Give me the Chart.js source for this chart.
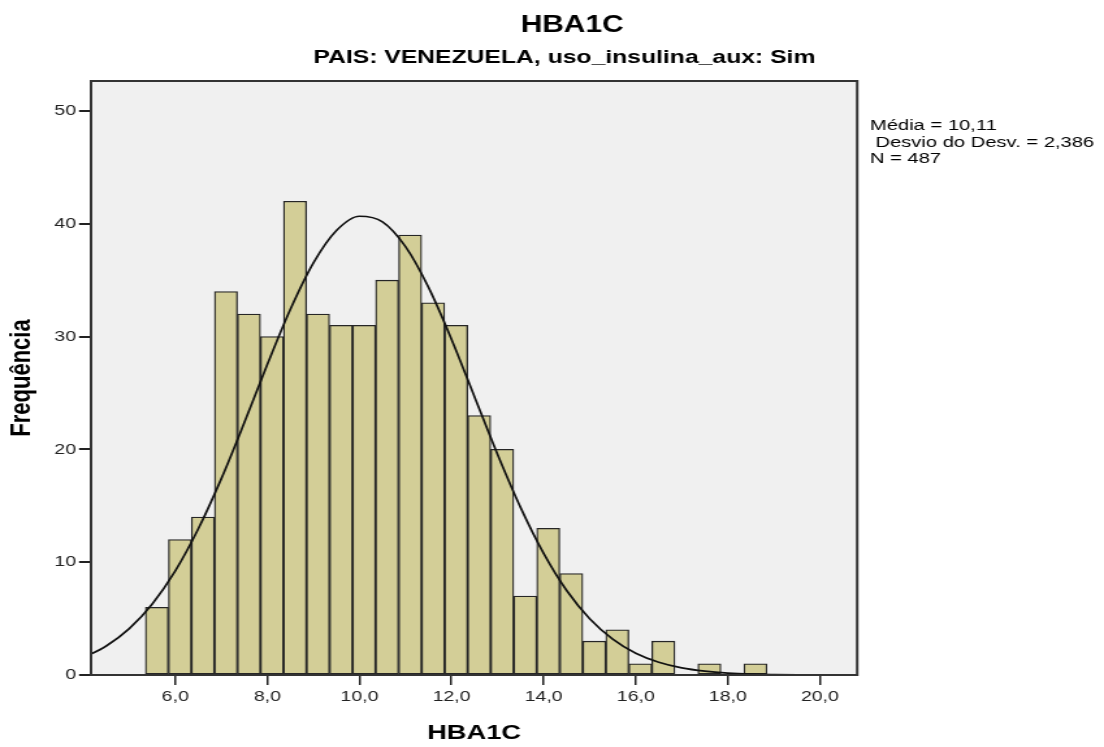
<!DOCTYPE html>
<html>
<head>
<meta charset="utf-8">
<title>HBA1C</title>
<script src="https://cdn.jsdelivr.net/npm/chart.js@4.4.1/dist/chart.umd.min.js"></script>
<style>
  html, body { margin: 0; padding: 0; background: #ffffff; }
  #histo { position: absolute; left: 0; top: 0; }
</style>
</head>
<body>
<!-- the reference is stretched sideways, so the chart is drawn narrower and widened by css -->
<canvas id="histo" width="849" height="747" style="width:1104px;height:747px"></canvas>
<script>
// histogram bins (centres, width 0.5) and counts
const binCenters = [5.6, 6.1, 6.6, 7.1, 7.6, 8.1, 8.6, 9.1, 9.6, 10.1, 10.6, 11.1, 11.6, 12.1,
                    12.6, 13.1, 13.6, 14.1, 14.6, 15.1, 15.6, 16.1, 16.6, 17.1, 17.6, 18.1, 18.6];
const binCounts = [6, 12, 14, 34, 32, 30, 42, 32, 31, 31, 35, 39, 33, 31,
                   23, 20, 7, 13, 9, 3, 4, 1, 3, 0, 1, 0, 1];

// normal curve
const curveX = [4.0, 4.5, 5.0, 5.5, 6.0, 6.5, 7.0, 7.5, 8.0, 8.5, 9.0, 9.5, 10.0, 10.5, 11.0, 11.5,
                12.0, 12.5, 13.0, 13.5, 14.0, 14.5, 15.0, 15.5, 16.0, 16.5, 17.0, 17.5, 18.0, 18.5,
                19.0, 19.5, 20.0, 20.5, 21.0];
const curveY = [1.53, 2.57, 4.11, 6.30, 9.23, 12.96, 17.41, 22.38, 27.54, 32.42, 36.53, 39.40, 40.67,
                40.17, 37.97, 34.36, 29.75, 24.65, 19.55, 14.84, 10.78, 7.49, 4.99, 3.18, 1.93, 1.13,
                0.63, 0.34, 0.17, 0.08, 0.04, 0.02, 0.01, 0.0, 0.0];

const xTickValues = [6, 8, 10, 12, 14, 16, 18, 20];
const xTickLabels = ['6,0', '8,0', '10,0', '12,0', '14,0', '16,0', '18,0', '20,0'];
const yTickValues = [0, 10, 20, 30, 40, 50];
const yTickLabels = ['0', '10', '20', '30', '40', '50'];

const statsLines = ['Média = 10,11', ' Desvio do Desv. = 2,386', 'N = 487'];

const FONT = "'Liberation Sans', Arial, sans-serif";

// plot background, frame and the free text (titles, stats box)
const decor = {
    id: 'decor',
    beforeDatasetsDraw(chart) {
        const { ctx, chartArea: a } = chart;
        ctx.save();
        ctx.fillStyle = '#f0f0f0';
        ctx.fillRect(a.left, a.top, a.right - a.left, a.bottom - a.top);
        ctx.restore();
    },
    afterDraw(chart) {
        const { ctx, chartArea: a } = chart;
        ctx.save();
        ctx.strokeStyle = '#333333';
        ctx.lineWidth = 2;
        ctx.strokeRect(a.left, a.top, a.right - a.left, a.bottom - a.top);

        ctx.fillStyle = '#000000';
        ctx.textAlign = 'center';
        ctx.textBaseline = 'alphabetic';
        ctx.font = 'bold 23px ' + FONT;
        ctx.fillText('HBA1C', 440, 31.5);
        ctx.font = 'bold 19px ' + FONT;
        ctx.fillText('PAIS: VENEZUELA, uso_insulina_aux: Sim', 434, 63);

        ctx.textAlign = 'left';
        ctx.font = '15.5px ' + FONT;
        statsLines.forEach((t, i) => ctx.fillText(t, 669, 130 + i * 16.5));
        ctx.restore();
    }
};

const ctx = document.getElementById('histo').getContext('2d');
new Chart(ctx, {
    type: 'bar',
    data: {
        datasets: [
            {
                type: 'line',
                data: curveX.map((x, i) => ({ x: x, y: curveY[i] })),
                borderColor: '#111111',
                borderWidth: 1.7,
                pointRadius: 0,
                cubicInterpolationMode: 'monotone',
                fill: false,
                order: 0
            },
            {
                type: 'bar',
                data: binCenters.map((x, i) => ({ x: x, y: binCounts[i] })),
                backgroundColor: '#d3ce97',
                borderColor: '#262626',
                borderWidth: 1.3,
                borderSkipped: false,
                barPercentage: 1,
                categoryPercentage: 1,
                order: 1
            }
        ]
    },
    options: {
        responsive: false,
        animation: false,
        devicePixelRatio: 1,
        layout: { padding: { top: 81, right: 189.8, bottom: 0, left: 0 } },
        plugins: {
            legend: { display: false },
            tooltip: { enabled: false },
            title: { display: false }
        },
        scales: {
            x: {
                type: 'linear',
                min: 4.17,
                max: 20.81,
                offset: false,
                afterFit: s => { s.height = 72; },
                afterBuildTicks: s => { s.ticks = xTickValues.map(v => ({ value: v })); },
                grid: {
                    offset: false,
                    drawOnChartArea: false,
                    drawTicks: true,
                    tickLength: 10,
                    color: '#222222',
                    lineWidth: 1.5
                },
                border: { display: false },
                ticks: {
                    padding: 3,
                    maxRotation: 0,
                    autoSkip: false,
                    color: '#222222',
                    font: { family: FONT, size: 15 },
                    callback: (v, i) => xTickLabels[i]
                },
                title: {
                    display: true,
                    text: 'HBA1C',
                    color: '#000000',
                    font: { family: FONT, size: 21, weight: 'bold' },
                    padding: { top: 0, bottom: 1.4 }
                }
            },
            y: {
                type: 'linear',
                min: 0,
                max: 52.66,
                afterFit: s => { s.width = 70; },
                afterBuildTicks: s => { s.ticks = yTickValues.map(v => ({ value: v })); },
                grid: {
                    drawOnChartArea: false,
                    drawTicks: true,
                    tickLength: 9.2,
                    color: '#222222',
                    lineWidth: 2
                },
                border: { display: false },
                ticks: {
                    padding: 2.3,
                    autoSkip: false,
                    color: '#222222',
                    font: { family: FONT, size: 15 },
                    callback: (v, i) => yTickLabels[i]
                },
                title: {
                    display: true,
                    text: 'Frequência',
                    color: '#000000',
                    font: { family: FONT, size: 22, weight: 'bold' },
                    padding: { top: 4.1, bottom: 0 }
                }
            }
        }
    },
    plugins: [decor]
});
</script>
</body>
</html>
